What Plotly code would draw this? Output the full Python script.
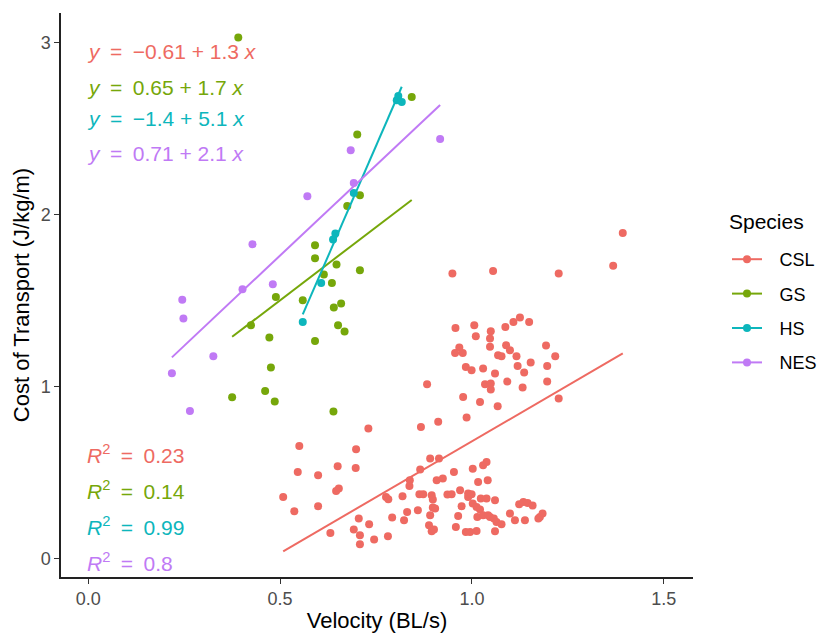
import plotly.graph_objects as go

species = ["CSL", "GS", "HS", "NES"]
colors = {"CSL": "#EE6A62", "GS": "#76A70A", "HS": "#0DB6BC", "NES": "#C07AF5"}

csl_x = [1.393, 1.368, 0.949, 1.055, 1.226, 0.957, 1.006, 1.010, 1.049, 1.047, 1.047, 1.087, 1.108, 1.125,
         1.149, 1.193, 1.217, 1.196, 1.196, 0.967, 0.956, 0.976, 0.984, 0.999, 1.029, 1.060, 1.034, 1.049,
         1.049, 1.092, 1.132, 1.119, 1.136, 1.153, 1.068, 1.089, 1.099, 1.116, 1.077, 0.977, 1.021, 1.067,
         0.883, 0.912, 0.986, 1.226, 0.867, 0.550, 0.730, 0.698, 0.650, 0.697, 0.546, 0.599, 0.653, 0.646,
         0.508, 0.537, 0.599, 0.631, 0.705, 0.692, 0.708, 0.708, 0.732, 0.745, 0.781, 0.776, 0.782, 0.792,
         0.819, 0.823, 0.831, 0.838, 0.837, 0.859, 0.865, 0.863, 0.873, 0.891, 0.895, 0.898, 0.898, 0.904,
         0.891, 0.888, 0.895, 0.901, 0.908, 0.924, 0.914, 0.936, 0.947, 0.953, 0.958, 0.964, 0.969, 0.973,
         0.990, 0.990, 0.999, 0.984, 0.995, 1.012, 1.002, 1.016, 1.029, 1.038, 1.041, 1.002, 1.012, 1.021,
         1.014, 1.023, 1.038, 1.029, 1.042, 1.047, 1.060, 1.057, 1.064, 1.077, 1.060, 1.099, 1.112, 1.123,
         1.134, 1.145, 1.158, 1.138, 1.177, 1.184, 1.173]
csl_y = [1.891, 1.700, 1.655, 1.670, 1.655, 1.339, 1.355, 1.290, 1.320, 1.277, 1.229, 1.345, 1.374, 1.400,
         1.374, 1.237, 1.174, 1.118, 1.027, 1.225, 1.194, 1.194, 1.112, 1.093, 1.103, 1.074, 1.012, 1.016,
         0.981, 1.027, 0.992, 1.118, 1.080, 1.138, 1.180, 1.238, 1.209, 1.174, 1.174, 0.938, 0.909, 0.884,
         1.012, 0.793, 0.818, 0.929, 0.763, 0.653, 0.754, 0.634, 0.535, 0.525, 0.502, 0.483, 0.405, 0.391,
         0.356, 0.273, 0.302, 0.147, 0.231, 0.167, 0.134, 0.081, 0.198, 0.109, 0.128, 0.356, 0.343, 0.237,
         0.360, 0.221, 0.269, 0.453, 0.420, 0.279, 0.516, 0.372, 0.372, 0.580, 0.366, 0.341, 0.295, 0.289,
         0.250, 0.192, 0.157, 0.167, 0.453, 0.463, 0.580, 0.370, 0.372, 0.502, 0.182, 0.246, 0.395, 0.302,
         0.356, 0.376, 0.372, 0.153, 0.153, 0.159, 0.521, 0.444, 0.541, 0.560, 0.453, 0.318, 0.298, 0.283,
         0.240, 0.347, 0.347, 0.250, 0.250, 0.240, 0.337, 0.231, 0.211, 0.198, 0.157, 0.260, 0.221, 0.314,
         0.327, 0.321, 0.306, 0.221, 0.240, 0.260, 0.231]

gs_x = [0.391, 0.375, 0.461, 0.486, 0.476, 0.472, 0.424, 0.489, 0.559, 0.591, 0.591, 0.591, 0.614, 0.635,
        0.647, 0.708, 0.659, 0.640, 0.651, 0.668, 0.639, 0.675, 0.708, 0.701, 0.843]
gs_y = [3.027, 0.936, 0.973, 0.911, 1.109, 1.283, 1.355, 1.519, 1.500, 1.820, 1.744, 1.263, 1.649, 1.600,
        1.708, 1.674, 1.481, 1.458, 1.355, 1.318, 0.853, 2.048, 2.110, 2.463, 2.682]

hs_x = [0.559, 0.607, 0.638, 0.644, 0.692, 0.804, 0.808, 0.817]
hs_y = [1.374, 1.600, 1.853, 1.888, 2.124, 2.663, 2.688, 2.653]

nes_x = [0.218, 0.245, 0.248, 0.265, 0.326, 0.402, 0.428, 0.481, 0.571, 0.684, 0.692, 0.917]
nes_y = [1.076, 1.503, 1.394, 0.856, 1.174, 1.564, 1.826, 1.593, 2.105, 2.372, 2.182, 2.438]

# fitted line coefficients (intercept, slope) as drawn
intercepts = [-0.62, 0.65, -1.45, 0.71]
slopes = [1.30, 1.70, 5.13, 2.10]

SP = "\u2002"  # wider space, like plotmath spacing
eq_labels = [f"<i>y</i>{SP}={SP}−0.61 + 1.3 <i>x</i>", f"<i>y</i>{SP}={SP}0.65 + 1.7 <i>x</i>",
             f"<i>y</i>{SP}={SP}−1.4 + 5.1 <i>x</i>", f"<i>y</i>{SP}={SP}0.71 + 2.1 <i>x</i>"]
r2_values = ["0.23", "0.14", "0.99", "0.8"]
eq_label_y = [2.944, 2.737, 2.556, 2.353]
r2_label_y = [0.609, 0.395, 0.186, -0.022]

xs = [csl_x, gs_x, hs_x, nes_x]
ys = [csl_y, gs_y, hs_y, nes_y]

PL, PR, PT, PB = 61, 124, 13, 63
pw, ph = 817 - PL - PR, 640 - PT - PB


def px_to_paper_x(px):
    return (px - PL) / pw


def px_to_paper_y(py):
    return (640 - PB - py) / ph


fig = go.Figure()
FONT = "Liberation Sans, Arial, sans-serif"

for i, sp in enumerate(species):
    c = colors[sp]
    fig.add_trace(go.Scatter(x=xs[i], y=ys[i], mode="markers", showlegend=False,
                             marker=dict(size=8, color=c), hoverinfo="x+y"))
for i, sp in enumerate(species):
    c = colors[sp]
    x0, x1 = min(xs[i]), max(xs[i])
    fig.add_trace(go.Scatter(x=[x0, x1], y=[intercepts[i] + slopes[i] * x0, intercepts[i] + slopes[i] * x1],
                             mode="lines", showlegend=False, line=dict(color=c, width=2)))
for i, sp in enumerate(species):
    c = colors[sp]
    fig.add_trace(go.Scatter(x=[None], y=[None], mode="lines+markers", name="\u2002\u2009" + sp, legendgroup=sp,
                             line=dict(color=c, width=2), marker=dict(size=8, color=c)))

for i, sp in enumerate(species):
    c = colors[sp]
    fig.add_annotation(x=0, y=eq_label_y[i], xref="x", yref="y", text=eq_labels[i], showarrow=False,
                       xanchor="left", yanchor="middle", xshift=-3, font=dict(family=FONT, size=21, color=c))
    fig.add_annotation(x=0, y=r2_label_y[i], xref="x", yref="y",
                       text=f"<i>R</i><sup>2</sup>{SP}={SP}" + r2_values[i], showarrow=False,
                       xanchor="left", yanchor="middle", xshift=-3, font=dict(family=FONT, size=21, color=c))

# legend title as separate text
fig.add_annotation(x=px_to_paper_x(727), y=px_to_paper_y(222), xref="paper", yref="paper", text="Species",
                   showarrow=False, xanchor="left", yanchor="middle",
                   font=dict(family=FONT, size=21, color="black"))

axis_common = dict(showline=True, linecolor="#222222", linewidth=1.5, ticks="outside", ticklen=5,
                   tickcolor="#333333", tickwidth=1, showgrid=False, zeroline=False,
                   tickfont=dict(family=FONT, size=18, color="#4D4D4D"))

fig.update_layout(
    width=817, height=640,
    margin=dict(l=PL, r=PR, t=PT, b=PB, autoexpand=False),
    plot_bgcolor="white", paper_bgcolor="white",
    font=dict(family=FONT),
    xaxis=dict(range=[-0.071, 1.576], tickvals=[0.0, 0.5, 1.0, 1.5], ticktext=["0.0", "0.5", "1.0", "1.5"],
               title=dict(text="Velocity (BL/s)", font=dict(family=FONT, size=22, color="black"), standoff=4),
               **axis_common),
    yaxis=dict(range=[-0.109, 3.17], tickvals=[0, 1, 2, 3],
               title=dict(text="Cost of Transport (J/kg/m)", font=dict(family=FONT, size=22, color="black"), standoff=5),
               **axis_common),
    legend=dict(x=px_to_paper_x(727), xanchor="left", y=px_to_paper_y(311), yanchor="middle",
                tracegroupgap=8, font=dict(family=FONT, size=18, color="black"), itemwidth=30),
)

fig.write_html("out.html")
